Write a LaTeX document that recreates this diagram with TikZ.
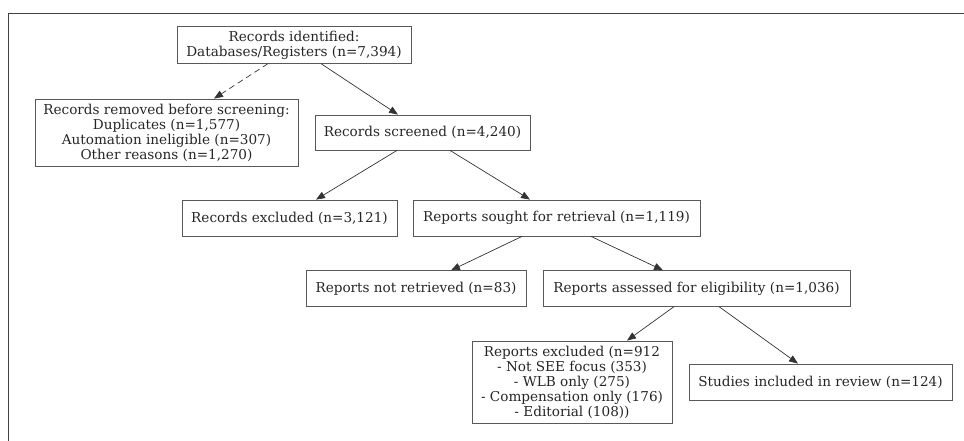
\documentclass[tikz,border=0pt]{standalone}
\usepackage{fontspec}
\setmainfont{DejaVu Serif}
\usetikzlibrary{arrows.meta}
\begin{document}
\begin{tikzpicture}[x=1pt,y=1pt,
  box/.style={draw=black!65, line width=0.8pt, rectangle, inner sep=0pt, align=center,
    font=\fontsize{13.6}{15}\selectfont, text=black!85},
  arr/.style={draw=black!80, line width=0.7pt, -{Triangle[length=9pt,width=7pt]}},
  frame/.style={draw=black!75, line width=1.5pt}]
\useasboundingbox (0,0) rectangle (964,-441);
\draw[frame] (8.5,-441) -- (8.5,-13.5) -- (964,-13.5);
\node[box, minimum width=234pt, minimum height=36.5pt] (A) at (294,-45) {Records identified:\\Databases/Registers (n=7,394)};
\node[box, minimum width=263pt, minimum height=67pt] (B) at (166.5,-132.5) {Records removed before screening:\\Duplicates (n=1,577)\\Automation ineligible (n=307)\\Other reasons (n=1,270)};
\node[box, minimum width=215pt, minimum height=35pt] (C) at (422.5,-132.5) {Records screened (n=4,240)};
\node[box, minimum width=215pt, minimum height=36pt] (D) at (289.5,-218) {Records excluded (n=3,121)};
\node[box, minimum width=287pt, minimum height=36pt] (E) at (556.5,-218) {Reports sought for retrieval (n=1,119)};
\node[box, minimum width=220pt, minimum height=35.5pt] (F) at (416,-288.5) {Reports not retrieved (n=83)};
\node[box, minimum width=307pt, minimum height=35.5pt] (G) at (696.5,-288.5) {Reports assessed for eligibility (n=1,036)};
\node[box, minimum width=200pt, minimum height=82pt] (H) at (572,-382) {Reports excluded (n=912\\- Not SEE focus (353)\\- WLB only (275)\\- Compensation only (176)\\- Editorial (108))};
\node[box, minimum width=263pt, minimum height=36pt] (I) at (820.5,-382) {Studies included in review (n=124)};
\draw[arr, dashed, dash pattern=on 6pt off 4pt] ([xshift=-26pt]A.south) -- ([xshift=47.5pt]B.north);
\draw[arr] ([xshift=27pt]A.south) -- ([xshift=-24.5pt]C.north);
\draw[arr] ([xshift=-25.5pt]C.south) -- ([xshift=26.5pt]D.north);
\draw[arr] ([xshift=27.5pt]C.south) -- ([xshift=-26.5pt]E.north);
\draw[arr] ([xshift=-34.5pt]E.south) -- ([xshift=35pt]F.north);
\draw[arr] ([xshift=34.5pt]E.south) -- ([xshift=-33.5pt]G.north);
\draw[arr] ([xshift=-22.5pt]G.south) -- ([xshift=55pt]H.north);
\draw[arr] ([xshift=22.5pt]G.south) -- ([xshift=-22.5pt]I.north);
\end{tikzpicture}
\end{document}
